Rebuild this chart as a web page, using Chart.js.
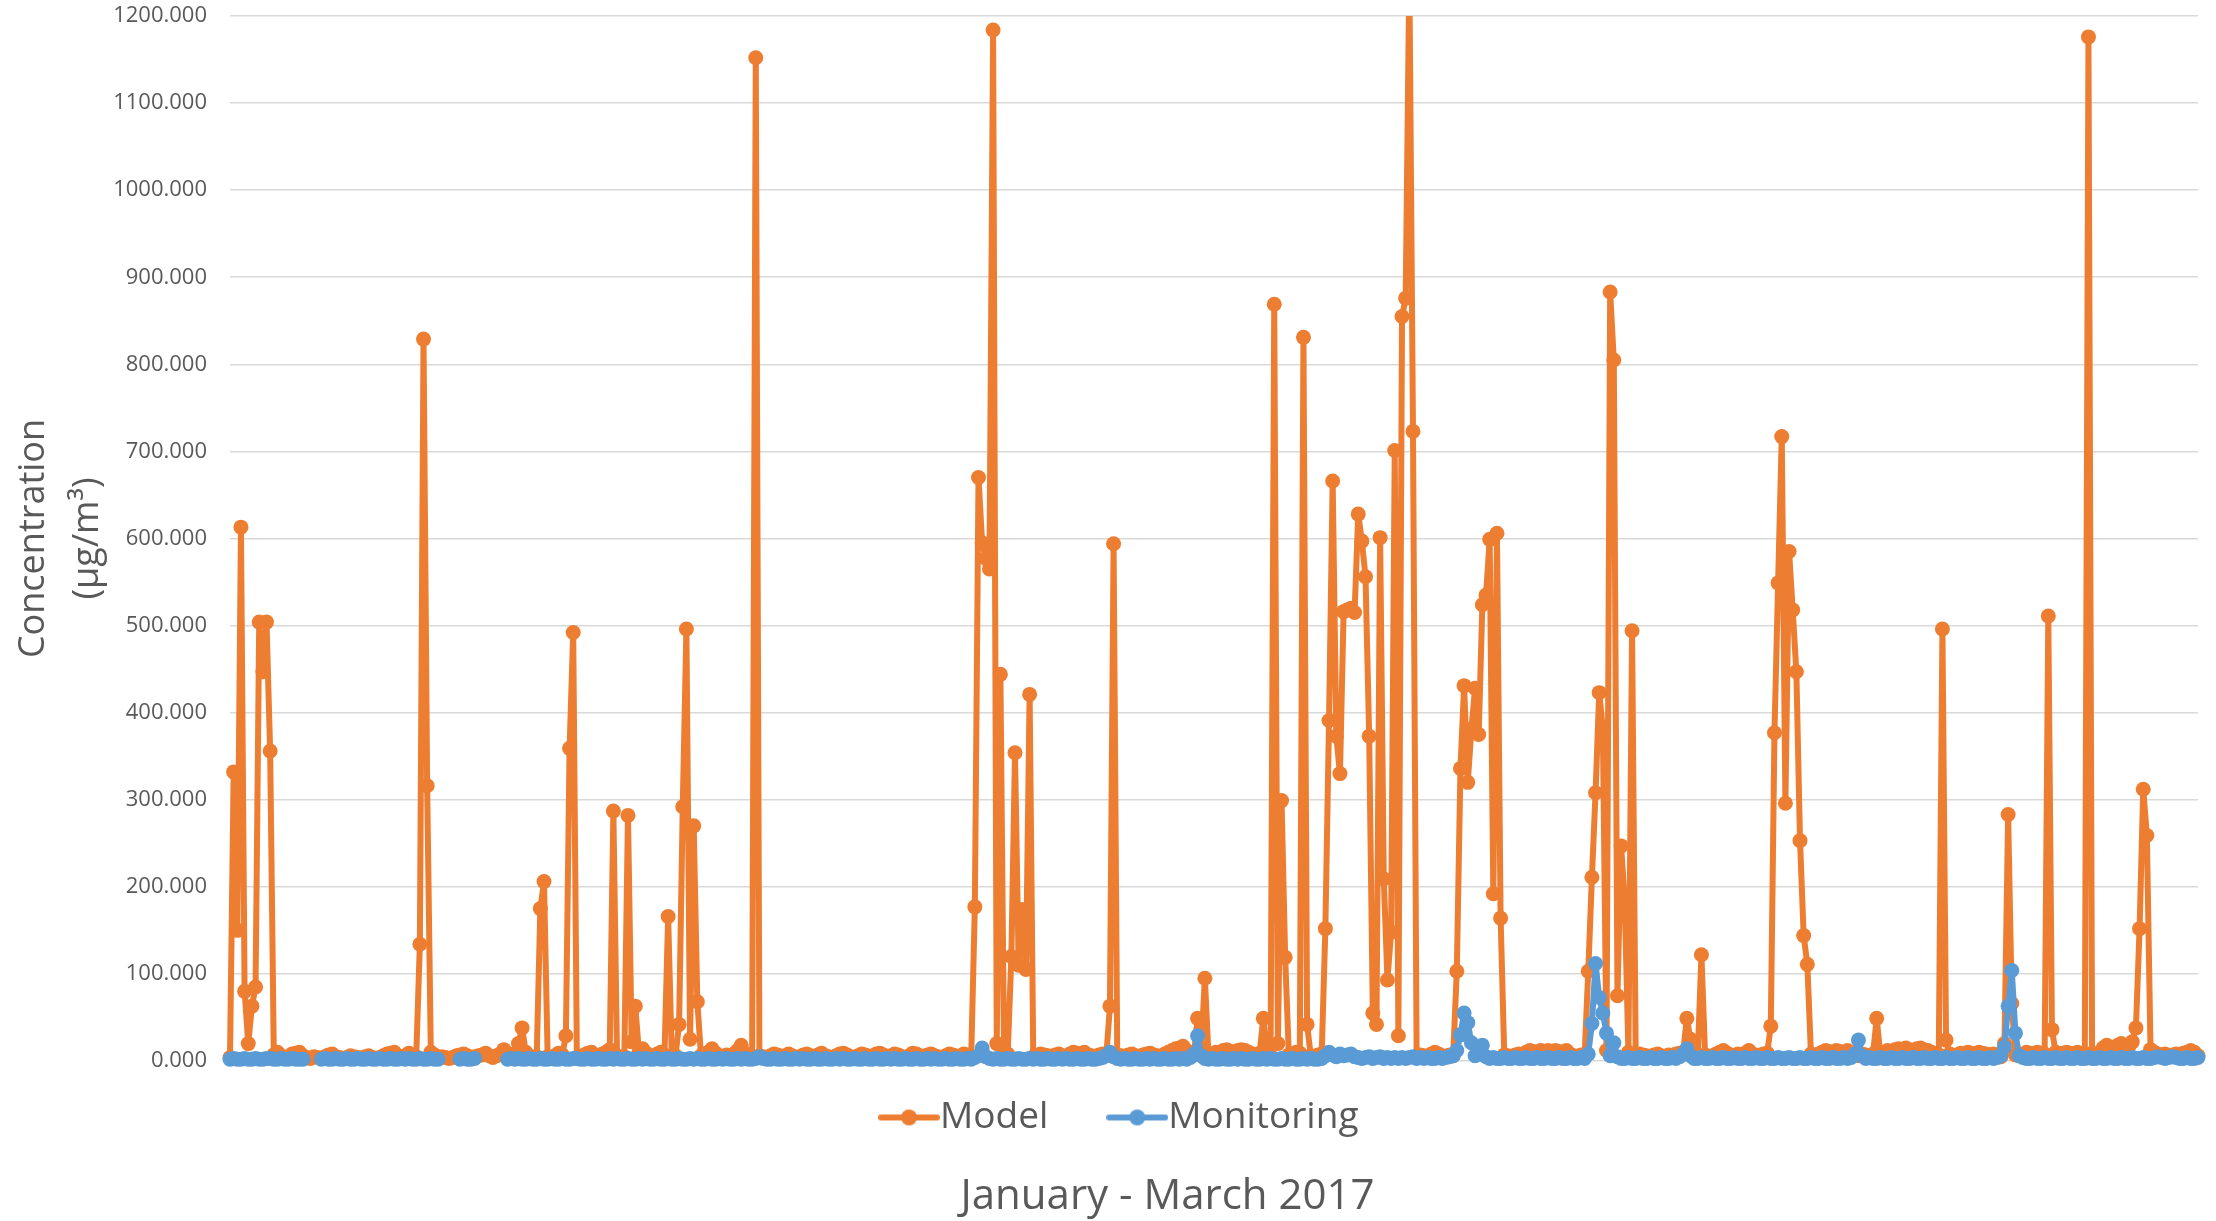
<!DOCTYPE html>
<html>
<head>
<meta charset="utf-8">
<title>Concentration - Model vs Monitoring</title>
<script src="https://cdn.jsdelivr.net/npm/chart.js"></script>
<style>
  html, body { margin: 0; padding: 0; background: #fff; }
</style>
</head>
<body>
<canvas id="concChart" width="2216" height="1221"></canvas>

<script>
    // 4-hourly steps, January - March 2017
    const steps = Array.from({length: 540}, (_, i) => 'h' + (i * 4));

    // model baseline (near zero), 20 values per row
    const modelBase = [
        4,4,6,5,3,3,4,3,2,4,6,4,7,10,6,4,5,8,9,10,
        6,4,3,5,4,3,5,7,8,5,4,3,4,6,5,4,3,5,6,4,
        3,4,6,8,9,10,6,4,6,9,7,5,4,3,6,10,7,4,5,4,
        3,4,6,7,8,6,4,5,6,7,9,6,4,6,8,13,9,5,8,20,
        17,10,6,4,5,8,7,5,4,6,9,7,5,8,6,4,5,7,9,10,
        6,5,8,10,13,9,6,4,5,7,6,8,10,14,9,6,5,8,10,7,
        5,4,6,8,5,6,7,5,4,6,8,10,14,9,6,5,7,6,8,12,
        18,9,6,5,7,6,5,4,6,8,7,5,6,8,6,4,5,7,8,6,
        5,7,9,6,5,4,6,8,9,7,5,4,6,8,7,5,6,8,9,7,
        5,6,8,7,5,4,6,9,8,6,5,7,8,6,5,4,6,8,7,5,
        6,8,7,5,6,8,6,5,7,8,6,5,7,8,6,5,6,8,7,6,
        5,6,8,7,6,5,7,8,6,5,8,10,9,8,10,7,6,5,7,8,
        6,7,9,7,6,5,7,8,6,5,7,8,9,7,6,5,8,10,12,14,
        15,17,12,8,7,6,8,7,6,8,10,9,12,13,11,10,12,13,12,10,
        8,7,9,10,8,6,7,9,8,6,7,8,10,9,7,8,6,5,7,8,
        6,5,7,8,6,5,7,6,5,8,6,5,7,6,5,7,6,5,8,7,
        6,5,7,8,6,5,7,6,5,8,10,8,6,5,7,6,5,7,6,5,
        7,6,5,7,6,5,8,6,5,7,6,5,7,8,6,10,12,11,9,12,
        11,12,10,12,11,9,12,8,6,5,7,6,5,8,7,6,5,7,6,5,
        7,6,5,7,6,5,8,7,6,5,7,8,6,5,7,6,8,9,10,12,
        8,6,7,9,7,5,6,8,10,12,9,7,6,8,7,9,12,8,6,7,
        8,9,12,14,10,8,6,7,9,8,6,5,7,8,6,8,10,12,11,10,
        12,11,10,12,9,7,6,8,7,6,8,9,7,10,12,11,13,14,12,15,
        13,12,14,15,13,12,10,8,7,9,12,8,6,7,9,8,10,9,8,10,
        9,8,7,8,6,5,7,6,5,7,8,6,10,9,8,10,9,8,10,9,
        10,8,9,10,9,8,10,8,6,7,9,8,7,15,18,16,14,18,20,17,
        16,22,18,14,12,15,13,10,8,7,8,6,7,8,6,9,10,12,10,6
    ];

    // model peaks: [step index, value]
    const modelPeaks = [
        [1,332],[2,150],[3,613],[4,80],[5,20],
        [6,63],[7,85],[8,504],[9,447],[10,504],[11,356],
        [52,134],[53,829],[54,316],
        [79,20],[80,38],
        [85,175],[86,206],
        [92,29],[93,359],[94,492],
        [105,287],
        [109,282],[110,22],[111,63],
        [120,166],
        [123,42],[124,292],[125,496],[126,25],[127,270],[128,68],
        [144,1152],
        [204,177],[205,670],[206,595],[207,577],[208,565],[209,1184],[210,20],[211,444],
        [214,120],[215,354],[216,110],[217,174],[218,105],[219,421],
        [241,63],[242,594],
        [265,49],[266,15],[267,95],
        [283,49],
        [286,869],[287,20],[288,299],[289,119],
        [294,831],[295,42],
        [300,152],[301,391],[302,666],[303,373],[304,330],[305,516],[306,518],[307,520],
        [308,515],[309,628],[310,597],[311,556],[312,373],
        [313,55],[314,42],[315,601],[316,209],[317,93],[318,148],[319,701],[320,29],
        [321,855],[322,876],[323,1250],[324,723],
        [336,103],[337,336],[338,431],[339,320],[340,381],[341,428],[342,375],
        [343,524],[344,535],[345,599],[346,192],[347,606],[348,164],
        [372,103],[373,211],[374,308],[375,423],[376,381],[377,12],[378,883],[379,805],
        [380,75],[381,247],[382,183],[383,10],[384,494],
        [399,49],[400,25],
        [403,122],
        [422,40],[423,377],[424,549],[425,717],[426,296],[427,585],[428,518],[429,447],
        [430,253],[431,144],[432,111],
        [451,49],
        [469,496],[470,24],
        [486,20],[487,283],[488,66],
        [498,511],[499,36],
        [509,1176],
        [521,22],[522,38],[523,152],[524,312],[525,259]
    ];

    // monitoring, null = no measurement
    const monitoring = [
        2,3,2,2,3,2,2,3,2,2,3,3,2,2,3,2,2,3,2,2,
        2,null,null,null,null,2,3,2,2,3,2,2,3,2,2,3,2,2,3,2,
        2,3,2,2,3,2,2,3,2,3,2,2,3,2,2,3,2,2,null,null,
        null,null,null,2,3,2,2,3,null,null,null,null,null,null,null,null,2,3,2,3,
        2,2,3,2,2,3,2,2,3,2,2,3,2,2,3,3,2,2,3,2,
        2,3,2,2,3,2,3,2,2,3,2,2,3,2,3,2,2,3,2,2,
        3,2,2,3,2,2,3,2,3,2,2,3,2,2,3,2,3,2,2,3,
        2,3,2,2,3,5,3,2,2,3,2,2,3,2,2,3,2,3,2,2,
        3,2,2,3,2,2,3,2,3,2,2,3,2,2,3,2,2,3,2,2,
        3,2,3,2,2,3,2,2,3,2,2,3,2,3,2,2,3,2,2,3,
        2,2,3,2,4,6,15,5,3,2,3,2,2,3,2,2,3,2,2,3,
        2,3,2,2,3,2,2,3,2,3,2,2,3,2,2,3,2,2,3,4,
        6,10,5,3,2,3,2,2,3,2,2,3,2,3,2,2,3,2,2,3,
        2,3,2,4,8,29,6,3,2,3,2,2,3,2,2,3,2,3,2,2,
        3,2,2,3,2,3,2,2,3,2,2,3,2,2,3,2,3,2,2,3,
        6,10,7,5,8,6,7,8,5,4,3,4,5,3,4,5,3,4,3,4,
        3,4,3,4,5,3,4,3,4,3,3,4,3,4,5,6,12,30,55,44,
        21,6,8,18,5,3,4,3,3,4,3,3,4,3,3,4,3,3,4,3,
        3,4,3,3,4,3,3,4,3,3,4,3,8,43,112,73,55,32,6,21,
        5,3,3,4,3,3,4,3,3,4,3,3,4,3,3,4,3,5,8,14,
        6,3,3,4,3,3,4,3,3,4,3,3,4,3,3,4,3,3,4,3,
        3,4,3,3,4,3,3,4,3,3,4,3,3,4,3,3,4,3,3,4,
        3,3,4,3,4,8,24,6,3,4,3,3,4,3,3,4,3,3,4,3,
        3,4,3,3,4,3,3,4,3,3,4,3,3,4,3,3,4,3,3,4,
        3,3,4,3,4,6,16,63,104,32,6,4,3,3,4,3,3,4,3,3,
        4,3,3,4,3,3,4,3,3,4,3,3,4,3,3,4,3,3,4,3,
        3,4,3,3,4,3,3,4,5,4,3,4,5,4,3,3,4,3,3,4
    ];

    const model = modelBase.slice();
    modelPeaks.forEach(([i, v]) => { model[i] = v; });

    const ORANGE = '#ED7D31';
    const BLUE = '#5B9BD5';
    const GREY = '#595959';

    Chart.defaults.font.family = "'Open Sans', sans-serif";

    // legend symbol: line with a dot in the middle
    function legendIcon(color) {
        const c = document.createElement('canvas');
        c.width = 62;
        c.height = 18;
        const g = c.getContext('2d');
        g.strokeStyle = color;
        g.lineWidth = 6;
        g.lineCap = 'round';
        g.beginPath();
        g.moveTo(3, 9);
        g.lineTo(59, 9);
        g.stroke();
        g.fillStyle = color;
        g.beginPath();
        g.arc(31, 9, 8, 0, Math.PI * 2);
        g.fill();
        return c;
    }

    // legend and x title sit a bit right of the canvas centre
    const nudgeBottom = {
        id: 'nudgeBottom',
        afterLayout(chart) {
            chart.legend.left += 25;
            chart.legend.right += 25;
            chart.titleBlock.left += 65;
            chart.titleBlock.right += 65;
        }
    };

    const lineStyle = color => ({
        borderColor: color,
        backgroundColor: color,
        pointBackgroundColor: color,
        pointBorderColor: color,
        borderWidth: 6,
        borderJoinStyle: 'round',
        borderCapStyle: 'round',
        pointRadius: 7.5,
        pointBorderWidth: 0,
        tension: 0,
        spanGaps: false,
        clip: {left: 12, right: 12, top: 0, bottom: 12}
    });

    const ctx = document.getElementById('concChart').getContext('2d');
    new Chart(ctx, {
        type: 'line',
        data: {
            labels: steps,
            datasets: [
                Object.assign({label: 'Model', data: model, order: 2}, lineStyle(ORANGE)),
                Object.assign({label: 'Monitoring', data: monitoring, order: 1}, lineStyle(BLUE))
            ]
        },
        options: {
            responsive: false,
            devicePixelRatio: 1,
            animation: false,
            events: [],
            layout: {padding: {left: 7, right: 18, top: 16, bottom: 0}},
            scales: {
                x: {display: false},
                y: {
                    min: 0,
                    max: 1200,
                    ticks: {
                        stepSize: 100,
                        padding: 23,
                        color: GREY,
                        font: {size: 22},
                        callback: v => v.toFixed(3)
                    },
                    grid: {color: '#d9d9d9', lineWidth: 1.5, drawTicks: false},
                    border: {display: false},
                    title: {
                        display: true,
                        text: ['Concentration', '(μg/m³)'],
                        color: GREY,
                        font: {size: 36, lineHeight: 1.5},
                        padding: {top: 0, bottom: 0}
                    },
                    afterFit: scale => {
                        scale.width = 223;
                        scale.paddingTop = 0;
                        scale.paddingBottom = 0;
                    }
                }
            },
            plugins: {
                legend: {
                    position: 'bottom',
                    labels: {
                        usePointStyle: true,
                        pointStyleWidth: 25,
                        padding: 38,
                        color: GREY,
                        font: {size: 37},
                        generateLabels: chart => chart.data.datasets.map((ds, i) => ({
                            text: i === 0 ? 'Model    ' : 'Monitoring',
                            fillStyle: ds.borderColor,
                            strokeStyle: ds.borderColor,
                            lineWidth: 0,
                            pointStyle: legendIcon(ds.borderColor),
                            fontColor: GREY,
                            hidden: false,
                            datasetIndex: i
                        }))
                    }
                },
                title: {
                    display: true,
                    position: 'bottom',
                    text: 'January - March 2017',
                    color: GREY,
                    font: {size: 42, weight: 'normal', lineHeight: 1.143},
                    padding: {top: 27, bottom: 0}
                },
                tooltip: {enabled: false}
            }
        },
        plugins: [nudgeBottom]
    });
</script>
</body>
</html>
